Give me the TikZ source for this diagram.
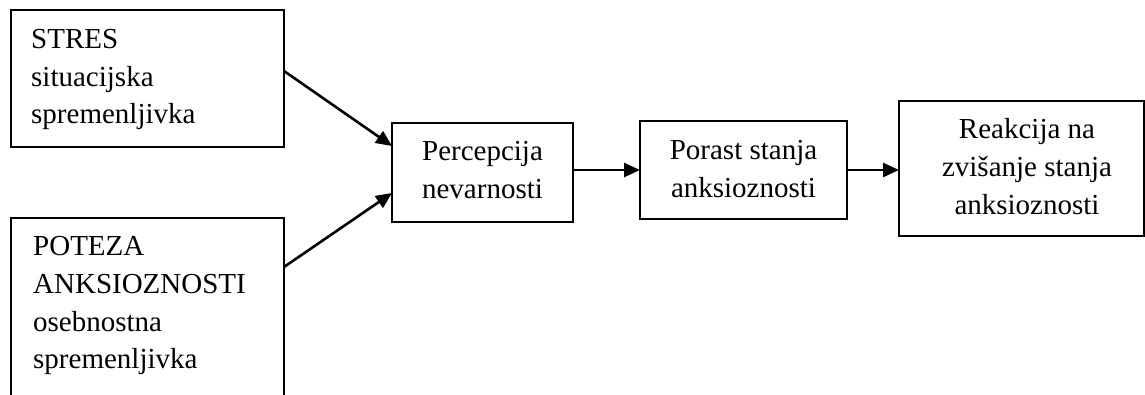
\documentclass[tikz,border=0pt]{standalone}
\usepackage{fontspec}
\setmainfont{Liberation Serif}
\usetikzlibrary{arrows.meta}
\begin{document}
\begin{tikzpicture}[x=1pt,y=-1pt,
  box/.style={draw=black,line width=2pt,inner sep=0pt,outer sep=0pt},
  txt/.style={inner sep=0pt,font=\fontsize{29}{37.7}\selectfont},
  arr/.style={line width=2.6pt,-{Triangle[length=16pt,width=14pt]}}]
\useasboundingbox (0,0) rectangle (1145,394);
\clip (0,0) rectangle (1145,394);
\fill[white] (0,0) rectangle (1145,394);
% boxes
\node[box,minimum width=273,minimum height=137] (stres) at (147.5,78.5) {};
\node[box,minimum width=273,minimum height=222] (poteza) at (147.5,329) {};
\node[box,minimum width=181,minimum height=99] (perc) at (482.5,172.5) {};
\node[box,minimum width=207,minimum height=98] (por) at (743.5,170) {};
\node[box,minimum width=245,minimum height=135] (reak) at (1021.5,168.5) {};
% texts
\node[txt,anchor=base west] (t1) at (31,48) {STRES};
\node[txt,anchor=base west] (t2) at (31,86) {situacijska};
\node[txt,anchor=base west] (t3) at (31,123) {spremenljivka};
\node[txt,anchor=base west] (t4) at (33,255) {POTEZA};
\node[txt,anchor=base west] (t5) at (33,293) {ANKSIOZNOSTI};
\node[txt,anchor=base west] (t6) at (33,331) {osebnostna};
\node[txt,anchor=base west] (t7) at (33,368) {spremenljivka};
\node[txt,anchor=base] (t8) at (482.5,160) {Percepcija};
\node[txt,anchor=base] (t9) at (482.5,198) {nevarnosti};
\node[txt,anchor=base] (t10) at (743.5,159) {Porast stanja};
\node[txt,anchor=base] (t11) at (743.5,197) {anksioznosti};
\node[txt,anchor=base] (t12) at (1027,138) {Reakcija na};
\node[txt,anchor=base] (t13) at (1027,176) {zvišanje stanja};
\node[txt,anchor=base] (t14) at (1027,214) {anksioznosti};
% connectors
\draw[arr] ([yshift=7.5pt]stres.east) -- ([yshift=26.5pt]perc.west);
\draw[arr] ([yshift=62pt]poteza.east) -- ([yshift=-20.5pt]perc.west);
\draw[arr] (perc.east |- por.west) -- (por.west);
\draw[arr] (por.east) -- (reak.west |- por.east);
\end{tikzpicture}
\end{document}
